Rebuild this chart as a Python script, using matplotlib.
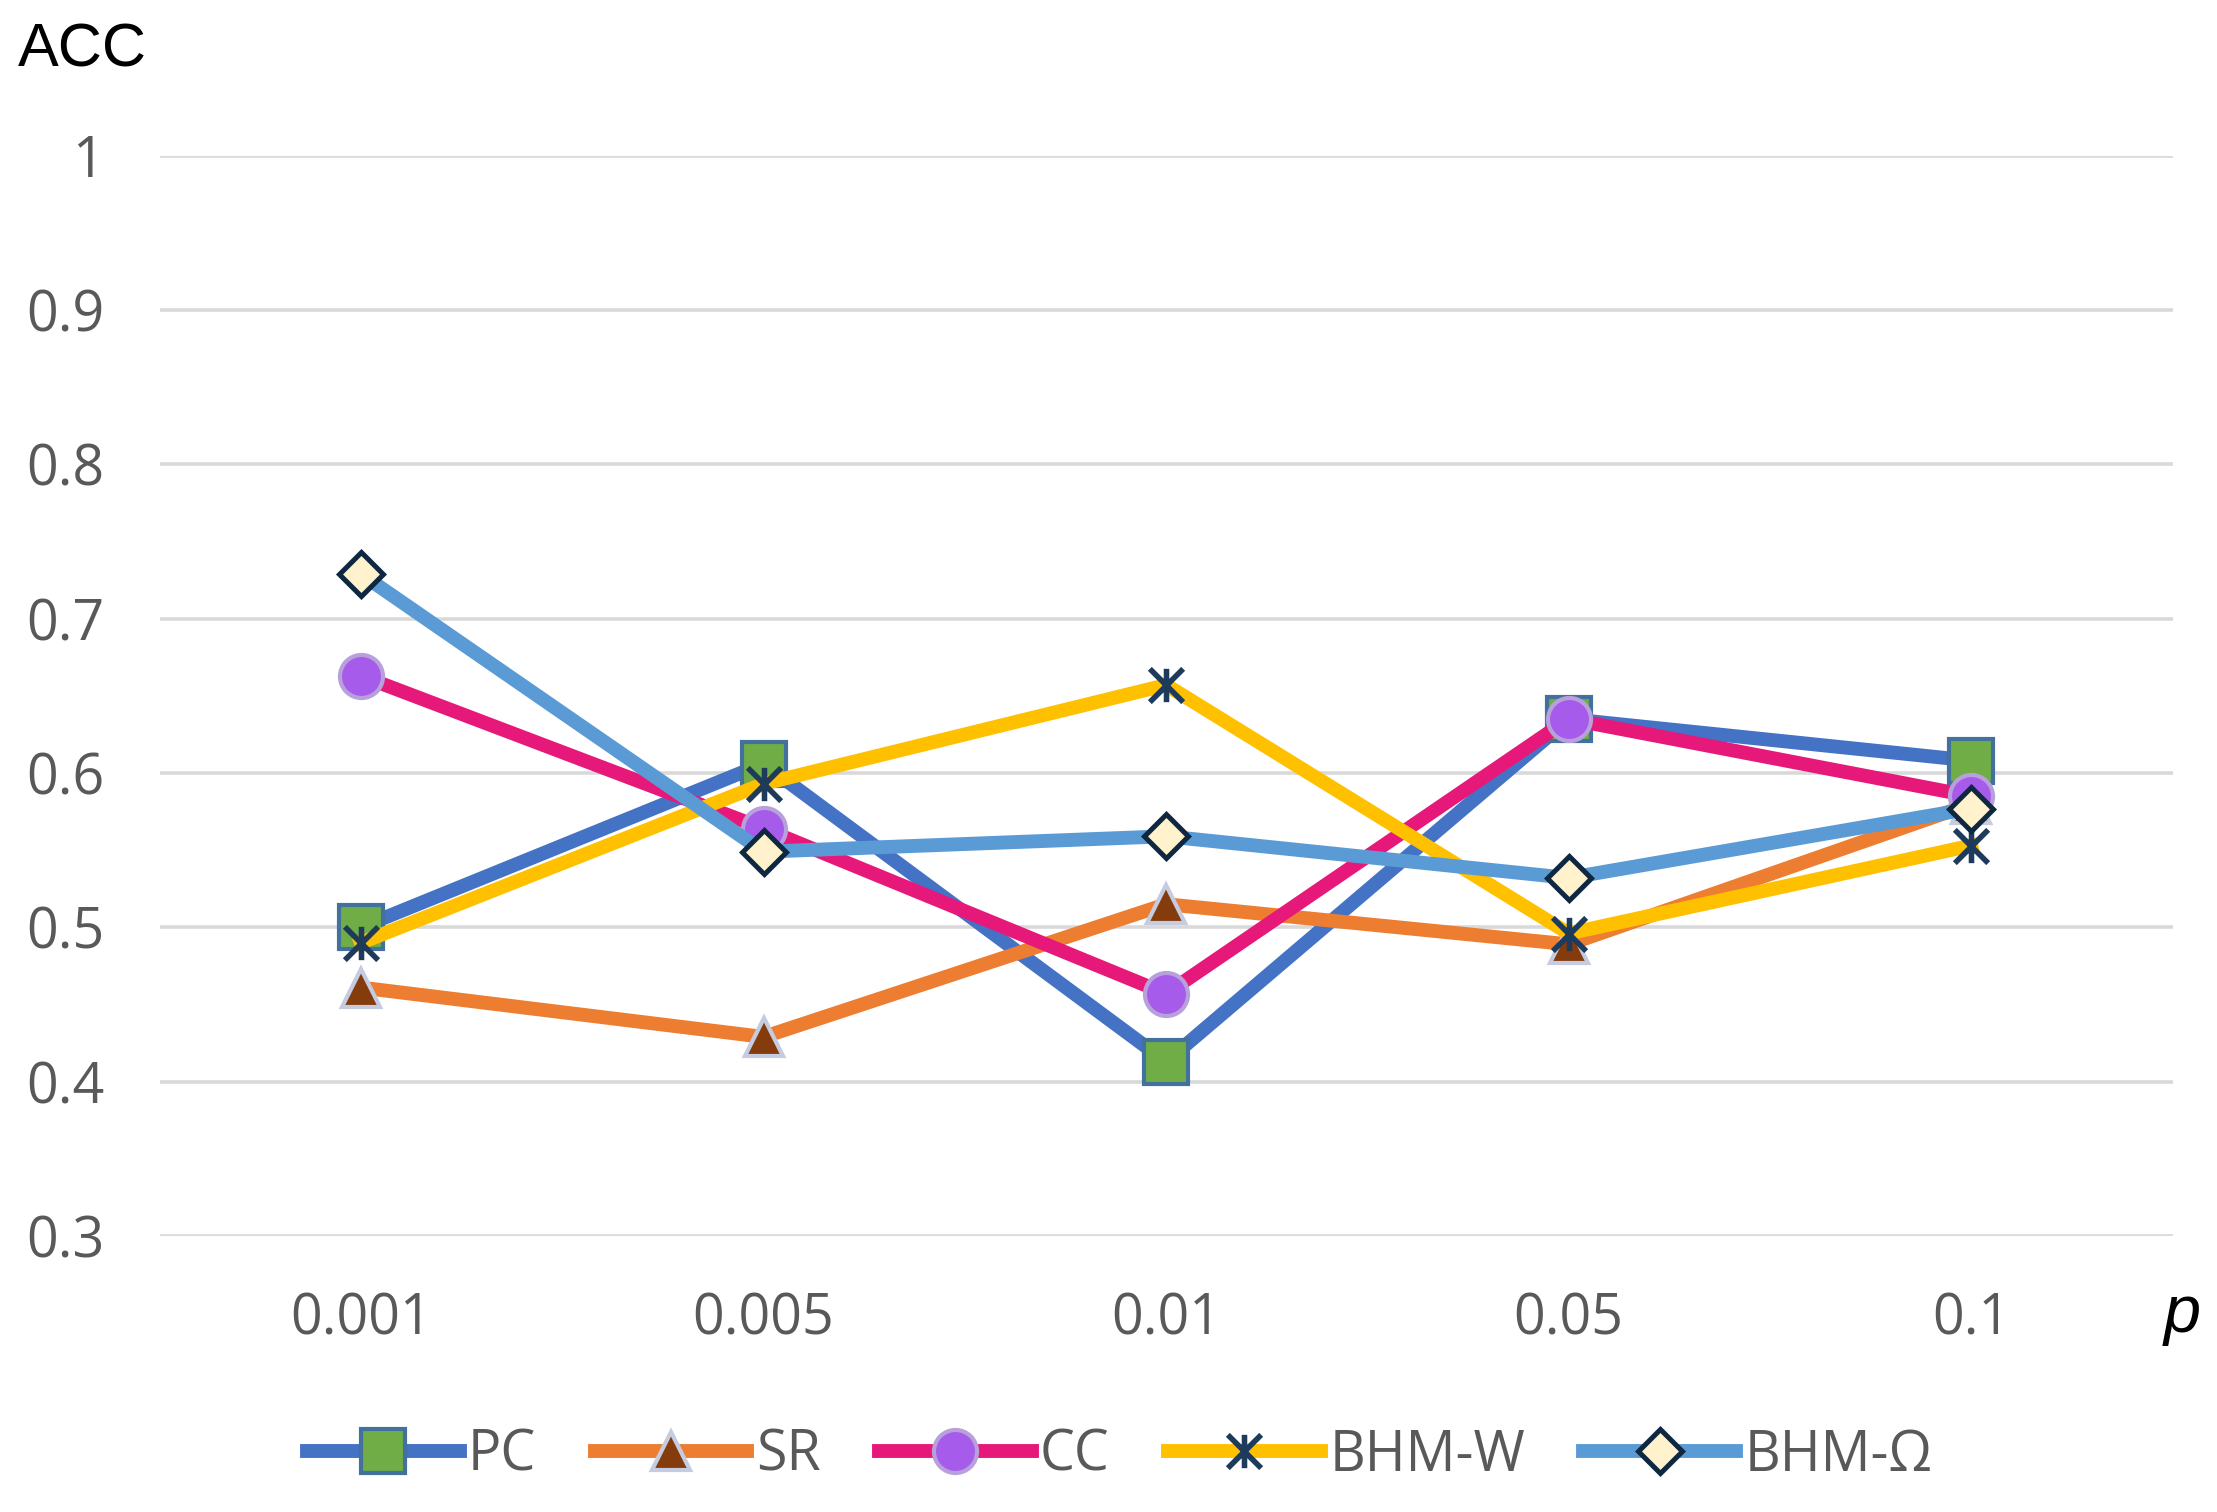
import numpy as np
import matplotlib
matplotlib.use("Agg")
from matplotlib import pyplot as plt
from matplotlib.path import Path

# values
p_labels = ["0.001", "0.005", "0.01", "0.05", "0.1"]
pc = [0.500, 0.606, 0.413, 0.635, 0.608]
sr = [0.461, 0.429, 0.515, 0.489, 0.580]
cc = [0.663, 0.564, 0.457, 0.635, 0.585]
bhm_w = [0.490, 0.593, 0.657, 0.496, 0.553]
bhm_o = [0.729, 0.549, 0.559, 0.532, 0.577]
y_ticks = [0.3, 0.4, 0.5, 0.6, 0.7, 0.8, 0.9, 1.0]
y_tick_labels = ["0.3", "0.4", "0.5", "0.6", "0.7", "0.8", "0.9", "1"]

plt.rcParams['font.family'] = ['Open Sans', 'DejaVu Sans']

# excel style "star" marker: an X with a vertical bar
star = Path([(-1, -1), (1, 1), (-1, 1), (1, -1), (0, -1), (0, 1)],
            [Path.MOVETO, Path.LINETO] * 3)

fig = plt.figure(figsize=(11.085, 7.56), dpi=200)
ax = fig.add_axes([0.072, 0.1825, 0.908, 0.7146])

x = np.arange(len(p_labels))
lw = 5
ax.plot(x, pc, color='#4472C4', lw=lw, marker='s', ms=15.5,
        mfc='#70AD47', mec='#41719C', mew=1.5, label='PC', zorder=3)
ax.plot(x, sr, color='#ED7D31', lw=lw, marker='^', ms=14,
        mfc='#843C0C', mec='#C5CBE0', mew=1.5, label='SR', zorder=4)
ax.plot(x, cc, color='#E6197A', lw=lw, marker='o', ms=15.5,
        mfc='#A65BEA', mec='#B7A0DC', mew=1.5, label='CC', zorder=5)
ax.plot(x, bhm_w, color='#FFC000', lw=lw, marker=star, ms=12,
        mfc='none', mec='#1F3B5C', mew=2.0, label='BHM-W', zorder=6)
ax.plot(x, bhm_o, color='#5B9BD5', lw=lw, marker='D', ms=11,
        mfc='#FFF2CC', mec='#0E2841', mew=1.8, label='BHM-Ω', zorder=7)

ax.set_xlim(-0.5, len(p_labels) - 0.5)
ax.set_ylim(0.3, 1.0)
ax.set_xticks(x)
ax.set_xticklabels(p_labels)
ax.set_yticks(y_ticks)
ax.set_yticklabels(y_tick_labels)
ax.tick_params(axis='both', length=0, labelsize=20, labelcolor='#595959')
ax.tick_params(axis='x', pad=20)
ax.tick_params(axis='y', pad=20)
ax.grid(axis='y', color='#D9D9D9', lw=1.3, zorder=0)
ax.set_axisbelow(True)
for s in ax.spines.values():
    s.set_visible(False)

fig.text(0.008, 0.966, 'ACC', fontsize=22, color='black',
         family='Liberation Sans', va='center', ha='left')
fig.text(0.976, 0.130, 'p', fontsize=24, color='black', style='italic',
         family='Liberation Sans', va='center', ha='left')

fig.legend(loc='center', bbox_to_anchor=(0.505, 0.037), ncol=5, frameon=False,
           fontsize=20, labelcolor='#595959', handlelength=2.75,
           handletextpad=0.15, columnspacing=1.05)

fig.savefig('out.png', dpi=200)
